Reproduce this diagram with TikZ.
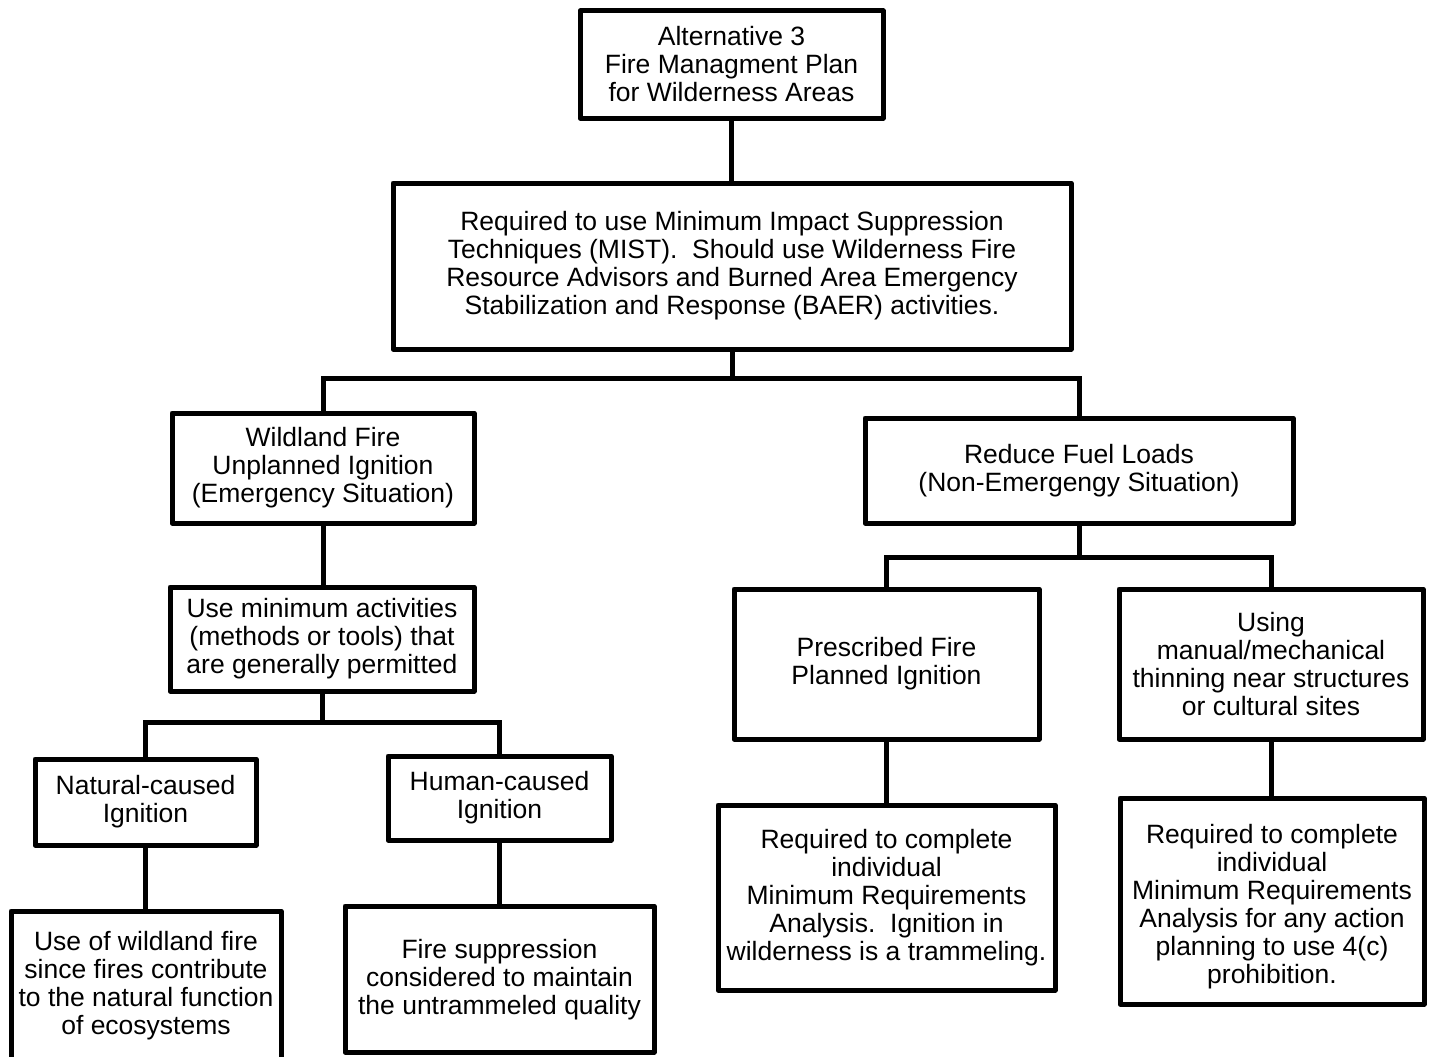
\documentclass[tikz,border=0pt]{standalone}
\usepackage{fontspec}
\setmainfont{Liberation Sans}
\begin{document}
\begin{tikzpicture}[x=1pt,y=-1pt,
  box/.style={draw=black,line width=5pt,fill=white,inner sep=0pt,align=center,
    font=\fontsize{26.5}{28}\selectfont,line join=round},
  conn/.style={draw=black,line width=5pt}]
\useasboundingbox (0,0) rectangle (1433,1057);
\node[box,minimum width=303,minimum height=107] (b1) at (731.5,64.5)
  {Alternative 3\\Fire Managment Plan\\for Wilderness Areas};
\node[box,minimum width=678,minimum height=166] (b2) at (732,266)
  {Required to use Minimum Impact Suppression\\Techniques (MIST).\ \ Should use Wilderness Fire\\Resource Advisors and Burned Area Emergency\\Stabilization and Response (BAER) activities.};
\node[box,minimum width=302,minimum height=110] (b3) at (323,468)
  {Wildland Fire\\Unplanned Ignition\\(Emergency Situation)};
\node[box,minimum width=428,minimum height=105] (b4) at (1079,470.5)
  {Reduce Fuel Loads\\(Non-Emergengy Situation)};
\node[box,minimum width=304,minimum height=104] (b5) at (322,639)
  {Use minimum activities\\(methods or tools) that\\are generally permitted};
\node[box,minimum width=221,minimum height=86] (b6) at (145.5,802)
  {Natural-caused\\Ignition};
\node[box,minimum width=223,minimum height=84] (b7) at (499.5,798)
  {Human-caused\\Ignition};
\node[box,minimum width=270,minimum height=150] (b8) at (146,986)
  {Use of wildland fire\\since fires contribute\\to the natural function\\of ecosystems};
\node[box,minimum width=309,minimum height=146] (b9) at (499.5,979)
  {\raisebox{-2pt}[\height][\depth]{\begin{tabular}{@{}c@{}}Fire suppression\\considered to maintain\\the untrammeled quality\end{tabular}}};
\node[box,minimum width=305,minimum height=150] (b10) at (886.5,664)
  {Prescribed Fire\\Planned Ignition};
\node[box,minimum width=304,minimum height=150] (b11) at (1271,664)
  {Using\\manual/mechanical\\thinning near structures\\or cultural sites};
\node[box,minimum width=337,minimum height=185] (b12) at (886.5,897.5)
  {Required to complete\\individual\\Minimum Requirements\\Analysis.\ \ Ignition in\\wilderness is a trammeling.};
\node[box,minimum width=304,minimum height=206] (b13) at (1272,901)
  {\raisebox{-7pt}[\height][\depth]{\begin{tabular}{@{}c@{}}Required to complete\\individual\\Minimum Requirements\\Analysis for any action\\planning to use 4(c)\\prohibition.\end{tabular}}};
\coordinate (j1) at (732,378);
\coordinate (j2) at (322,722);
\coordinate (j3) at (1079,557);
\draw[conn] (b1.south) -- (b1.south |- b2.north);
\draw[conn] (b2.south) -- (j1);
\draw[conn] (b3.north) |- (j1) -| (b4.north);
\draw[conn] (b3.south) -- (b3.south |- b5.north);
\draw[conn] (b5.south) -- (j2);
\draw[conn] (b6.north) |- (j2) -| (b7.north);
\draw[conn] (b4.south) -- (j3);
\draw[conn] (b10.north) |- (j3) -| (b11.north);
\draw[conn] (b6.south) -- (b6.south |- b8.north);
\draw[conn] (b7.south) -- (b7.south |- b9.north);
\draw[conn] (b10.south) -- (b10.south |- b12.north);
\draw[conn] (b11.south) -- (b11.south |- b13.north);
\end{tikzpicture}
\end{document}
